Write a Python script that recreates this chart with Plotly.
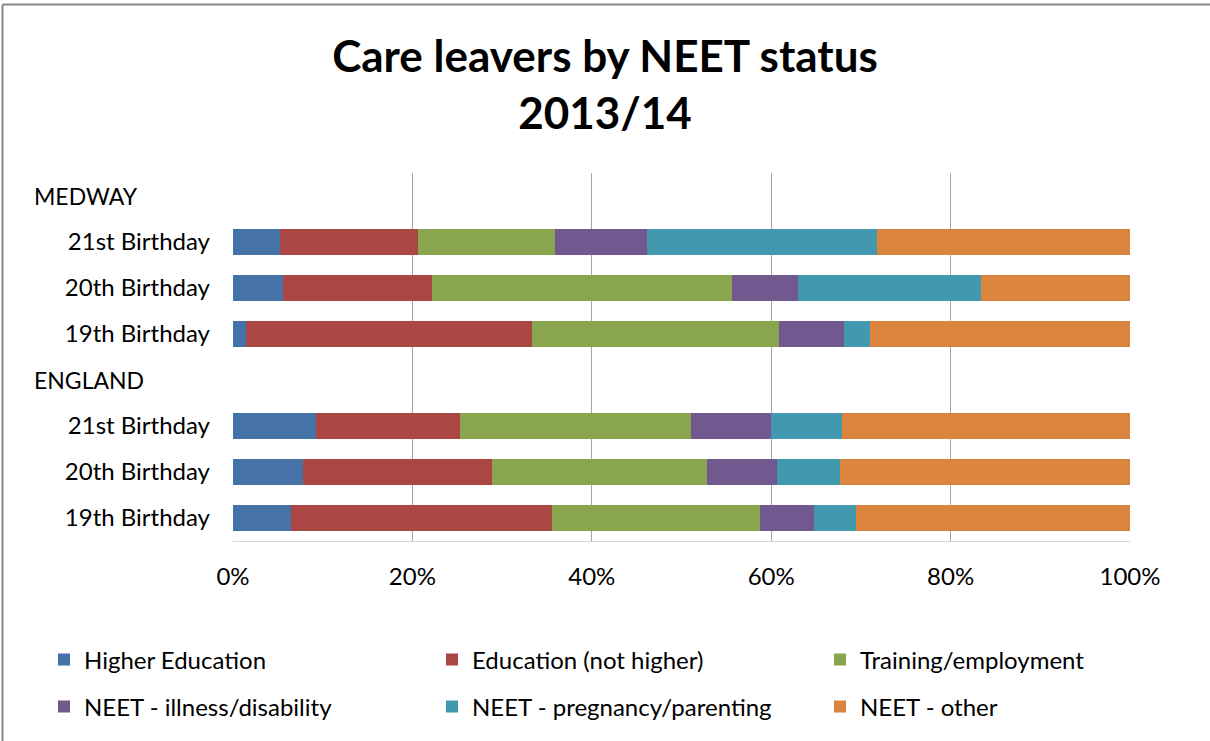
import plotly.graph_objects as go

# ---- data ----
row_ids = ["MEDWAY", "M21", "M20", "M19", "ENGLAND", "E21", "E20", "E19"]
row_labels = ["", "21st Birthday", "20th Birthday", "19th Birthday",
              "", "21st Birthday", "20th Birthday", "19th Birthday"]
group_headers = ["MEDWAY", "ENGLAND"]
data_rows = ["M21", "M20", "M19", "E21", "E20", "E19"]

series_names = ["Higher Education", "Education (not higher)", "Training/employment",
                "NEET - illness/disability", "NEET - pregnancy/parenting", "NEET - other"]
higher_education = [5.2, 5.6, 1.5, 9.3, 7.8, 6.5]
education_not_higher = [15.4, 16.6, 31.8, 16.0, 21.1, 29.1]
training_employment = [15.3, 33.4, 27.6, 25.8, 23.9, 23.1]
neet_illness = [10.3, 7.4, 7.2, 8.9, 7.9, 6.1]
neet_pregnancy = [25.6, 20.4, 2.9, 7.9, 7.0, 4.6]
neet_other = [28.2, 16.6, 29.0, 32.1, 32.3, 30.6]

colors = ["#4572A7", "#AA4643", "#89A54E", "#71588F", "#4198AF", "#DB843D"]
x_tickvals = [0, 20, 40, 60, 80, 100]

series_values = [higher_education, education_not_higher, training_employment,
                 neet_illness, neet_pregnancy, neet_other]

FONT = "Lato"
W, H = 1210, 741
L, R, T, B = 233, 80, 173, 200
pw = W - L - R
ph = H - T - B

def px_x(p):
    return (p - L) / pw

def px_y(p):
    return (H - B - p) / ph

# legend slots (one legend per entry, 3 columns x 2 rows)
legend_ids = ["legend", "legend2", "legend3", "legend4", "legend5", "legend6"]
legend_x_px = [44, 432, 820, 44, 432, 820]
legend_y_px = [660, 660, 660, 707, 707, 707]

fig = go.Figure()
for i, (name, vals, col) in enumerate(zip(series_names, series_values, colors)):
    fig.add_trace(go.Bar(
        y=data_rows, x=vals, name=name, orientation="h",
        marker=dict(color=col, line=dict(width=0)),
        legend=legend_ids[i], showlegend=True,
        hovertemplate="%{x:.1f}%<extra>" + name + "</extra>",
    ))

annotations = []
for g in group_headers:
    annotations.append(dict(
        text=g, x=px_x(32), xref="paper", xanchor="left",
        y=g, yref="y", yanchor="middle", showarrow=False,
        font=dict(family=FONT, size=23, color="#000000"),
    ))

legends = {}
for lid, lx, ly in zip(legend_ids, legend_x_px, legend_y_px):
    legends[lid] = dict(
        orientation="h", xanchor="left", yanchor="middle",
        x=px_x(lx), y=px_y(ly),
        font=dict(family=FONT, size=24, color="#000000"),
        bgcolor="rgba(0,0,0,0)",
    )

# chart-area frame: only the left and top edges are inside the picture
frame_line = dict(color="#868686", width=2)
shapes = [
    dict(type="line", xref="paper", yref="paper",
         x0=px_x(2.5), x1=px_x(2.5), y0=px_y(741), y1=px_y(4.5), line=frame_line),
    dict(type="line", xref="paper", yref="paper",
         x0=px_x(2.5), x1=px_x(1210), y0=px_y(4.5), y1=px_y(4.5), line=frame_line),
]

fig.update_layout(
    width=W, height=H,
    margin=dict(l=L, r=R, t=T, b=B),
    paper_bgcolor="white", plot_bgcolor="white",
    barmode="stack", bargap=0.45, showlegend=True,
    font=dict(family=FONT, size=24, color="#000000"),
    title=dict(
        text="<b>Care leavers by NEET status<br>2013/14</b>",
        x=0.5, xref="container", xanchor="center",
        y=1 - 72 / H, yref="container", yanchor="middle",
        font=dict(family=FONT, size=44, color="#000000"),
    ),
    xaxis=dict(
        range=[0, 100], tickvals=x_tickvals,
        ticktext=[f"{v}%" for v in x_tickvals],
        showgrid=True, gridcolor="#A6A6A6", gridwidth=1,
        zeroline=False, showline=True, linecolor="#D9D9D9", linewidth=1,
        ticks="", ticklabelstandoff=14,
        tickfont=dict(family=FONT, size=24, color="#000000"),
        fixedrange=True,
    ),
    yaxis=dict(
        type="category", categoryorder="array", categoryarray=row_ids[::-1],
        range=[-0.5, len(row_ids) - 0.5],
        tickvals=row_ids, ticktext=row_labels,
        showgrid=False, showline=False, zeroline=False,
        ticks="", ticklabelstandoff=22,
        tickfont=dict(family=FONT, size=24, color="#000000"),
        fixedrange=True,
    ),
    annotations=annotations,
    shapes=shapes,
    **legends,
)

fig.write_html(
    "out.html", config={"displayModeBar": False},
    post_script=("document.body.style.margin='0';"
                 "document.body.style.overflow='hidden';"
                 "document.documentElement.style.overflow='hidden';"),
)
